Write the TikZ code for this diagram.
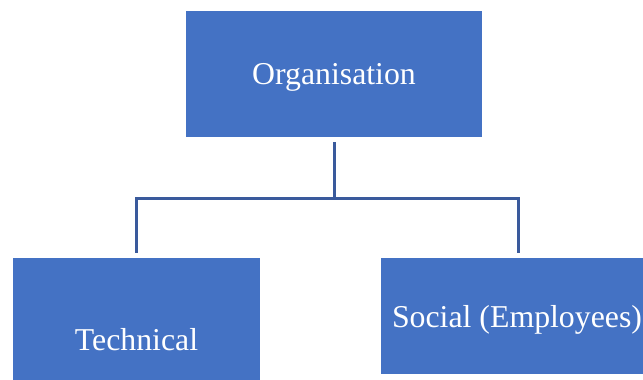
\documentclass[tikz,border=0pt]{standalone}
\usepackage{fontspec}
\setmainfont{Liberation Serif}
\definecolor{boxblue}{HTML}{4472C4}
\definecolor{linkblue}{HTML}{3A5A9C}
\tikzset{
  orgbox/.style={fill=boxblue, draw=none, inner sep=0pt},
  boxtext/.style={text=white, font=\fontsize{31.8}{36}\selectfont, anchor=base, inner sep=0pt},
  link/.style={draw=linkblue, line width=3pt}
}
\begin{document}
\begin{tikzpicture}[x=1pt,y=-1pt]
\useasboundingbox (0,0) rectangle (643,380);
\clip (0,0) rectangle (643,380);
\node[orgbox, minimum width=296pt, minimum height=126pt] (org) at (334,74) {};
\node[orgbox, minimum width=247pt, minimum height=124pt] (tech) at (136.5,320) {};
\node[orgbox, minimum width=270pt, minimum height=116pt] (soc) at (516,316) {};
\node[boxtext] (orgt) at (334,84) {Organisation};
\node[boxtext] (techt) at (136.5,350) {Technical};
\node[boxtext] (soct) at (517,327) {Social (Employees)};
\coordinate (top) at ([yshift=-5pt]org.south);
\coordinate (mid) at (334,198);
\coordinate (lt) at ([yshift=5pt]tech.north);
\coordinate (rt) at (518,253);
\draw[link] (top) -- (mid);
\draw[link] (lt) |- (mid) -| (rt);
\end{tikzpicture}
\end{document}
